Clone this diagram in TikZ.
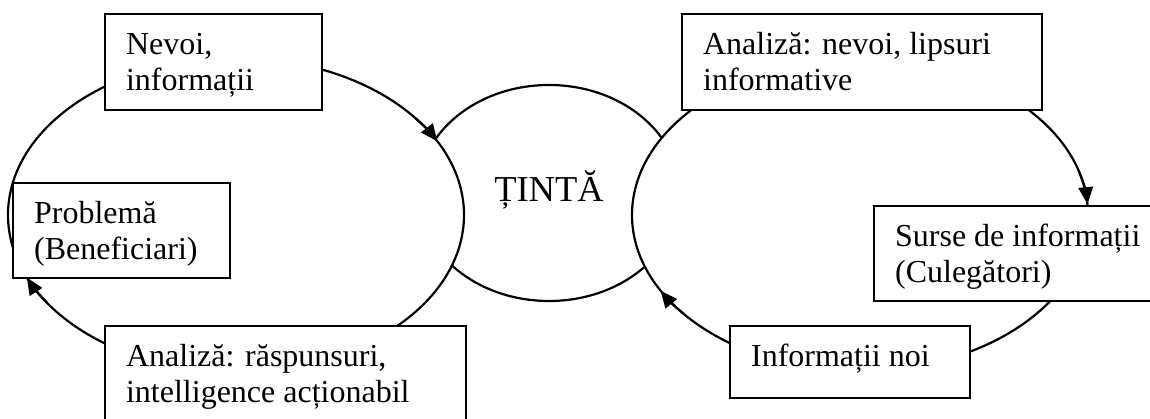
\documentclass[tikz,border=0pt]{standalone}
\usepackage{fontspec}
\setmainfont{Liberation Serif}
\usetikzlibrary{shapes.geometric,arrows.meta,calc}

% body text size and the size of the central label
\newcommand\bodysize{\fontsize{32pt}{36.8pt}\selectfont}
\newcommand\targetsize{\fontsize{36.5pt}{42pt}\selectfont}
% top-aligned, ragged paragraph whose first baseline is the node's reference point
\newcommand\boxlines[2]{\parbox[t]{#1}{\raggedright #2}}

\tikzset{
  outline/.style={line width=2.2pt, draw=black},
  cycle loop/.style={outline, fill=white},
  flow arrow/.style={outline, -{Triangle[length=17pt,width=14.5pt]}},
  % text box: top-left anchored, first baseline 40pt below the top edge,
  % the argument is the remaining height below that baseline
  tbox/.style={outline, fill=white, anchor=north west, inner xsep=21pt,
    inner ysep=0pt, text height=40pt, text depth=#1, font=\bodysize},
}

\begin{document}
\begin{tikzpicture}[x=1pt,y=1pt]
  \useasboundingbox (0,0) rectangle (1150,419);
  \clip (0,0) rectangle (1150,419);

  % centres of the two cycles
  \coordinate (L) at (236,204);
  \coordinate (R) at (860,204);

  % central target
  \node[ellipse, outline, minimum width=262pt, minimum height=216pt, inner sep=0pt,
        text height=24pt, text depth=6pt, font=\targetsize] (tinta) at (549,226) {ȚINTĂ};

  % the two cycles, drawn over the target
  \draw[cycle loop] (L) ellipse [x radius=228, y radius=157];
  \draw[cycle loop] (R) ellipse [x radius=228, y radius=156];

  % direction of each cycle: short arcs that carry the arrow tips
  \draw[flow arrow] ($(L)+(38:228 and 157)$) arc [start angle=38, end angle=28, x radius=228, y radius=157];
  \draw[flow arrow] ($(L)+(214:228 and 157)$) arc [start angle=214, end angle=203.5, x radius=228, y radius=157];
  \draw[flow arrow] ($(R)+(16:228 and 156)$) arc [start angle=16, end angle=4, x radius=228, y radius=156];
  \draw[flow arrow] ($(R)+(220:228 and 156)$) arc [start angle=220, end angle=209, x radius=228, y radius=156];

  % left cycle
  \node[tbox=56pt] (nevoi) at (104,406) {\boxlines{175pt}{Nevoi,\\informații}};
  \node[tbox=55pt] (problema) at (12,237) {\boxlines{175pt}{Problemă\\(Beneficiari)}};
  \node[tbox=80pt] (raspuns) at (104,94) {\boxlines{319pt}{Analiză: răspunsuri,\\intelligence acționabil}};

  % right cycle
  \node[tbox=56pt] (lipsuri) at (681,406) {\boxlines{318pt}{Analiză: nevoi, lipsuri\\informative}};
  \node[tbox=55pt] (surse) at (873,214) {\boxlines{288pt}{Surse de informații\\(Culegători)}};
  \node[tbox=32pt] (noi) at (729,94) {\boxlines{198pt}{Informații noi}};
\end{tikzpicture}
\end{document}
